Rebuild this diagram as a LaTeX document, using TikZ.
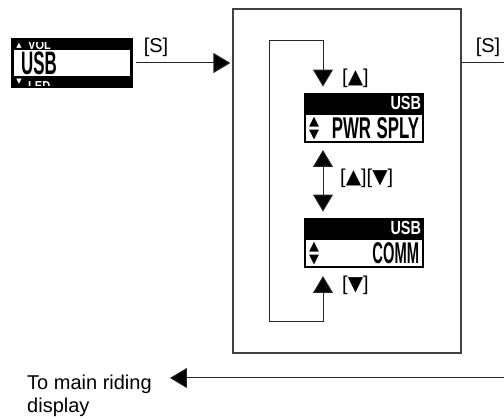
\documentclass[tikz,border=0pt]{standalone}
\usepackage{fontspec}
\setmainfont{Liberation Sans}
\newfontfamily\symf{DejaVu Sans}
\usepackage{graphicx}
\usetikzlibrary{arrows.meta,positioning}

\newcommand\narrow[2]{\scalebox{#1}[1]{#2}}
\newcommand\keyup{{\symf ▲}}
\newcommand\keydn{{\symf ▼}}
\newcommand\updn{\smash{\fontsize{13}{11}\symf\shortstack{▲\\▼}}}

\begin{document}
\begin{tikzpicture}[x=1pt,y=-1pt,
  txt/.style={inner sep=0pt,font=\fontsize{20}{23}\selectfont},
  wire/.style={draw=black!85,line width=1pt},
  tip/.style={wire,-{Triangle[length=17pt,width=20pt,fill=black]}},
  body/.style={draw,line width=2pt,fill=white,minimum width=118pt,minimum height=28pt,
    text width=110pt,inner xsep=4pt,inner ysep=0pt,align=right,font=\fontsize{30}{30}\bfseries},
  bar/.style={fill=black,text=white,minimum width=120pt,minimum height=20pt,
    text width=114pt,inner xsep=3pt,inner ysep=0pt,align=right,font=\fontsize{19}{19}\bfseries},
  small/.style={inner sep=0pt,text=white,font=\fontsize{13}{13}\bfseries}]
\useasboundingbox (0,0) rectangle (504,419);

\node[fill=black,minimum width=122pt,minimum height=50pt,inner sep=0pt] (lcd) at (72,63) {};
\node[fill=white,minimum width=116pt,minimum height=26pt,inner sep=0pt,anchor=north] (lcdbody) at (72,50) {};
\node[anchor=west,inner sep=0pt,font=\fontsize{26}{26}\bfseries] (usb) at (21,63.5) {\scalebox{0.65}[1.25]{USB}};
\begin{scope}
  \clip (13,43) rectangle (131,50);
  \node[small,anchor=base west] (vol) at (28,49.5) {\narrow{0.85}{VOL}};
  \node[small,font=\fontsize{7}{7}\symf] (volup) at (19,46) {▲};
\end{scope}
\begin{scope}
  \clip (13,76) rectangle (131,86);
  \node[small,anchor=north west] (led) at (28,81) {\narrow{0.85}{LED}};
  \node[small,font=\fontsize{7}{7}\symf] (leddn) at (19,82) {▼};
\end{scope}

\node[draw=black!75,line width=1.2pt,minimum width=228pt,minimum height=344pt] (menu) at (347,181) {};

\node[body] (pwr) at (364,128) {\updn\hfill\narrow{0.56}{PWR SPLY}};
\node[bar,anchor=south] (pwrbar) at (pwr.north) {\narrow{0.76}{USB}};

\node[body] (comm) at (364,253) {\updn\hfill\narrow{0.49}{COMM}};
\node[bar,anchor=south] (commbar) at (comm.north) {\narrow{0.76}{USB}};

\coordinate (v) at (323,0);
\coordinate (dn) at (323,78);
\coordinate (mid) at (323,178);
\coordinate (up) at (323,285);
\coordinate (out) at (504,63);
\coordinate (back) at (504,378);

\draw[tip,shorten <=3pt,shorten >=2pt] (lcd.east) -- (lcd.east -| menu.west);
\node[txt] (sin) at (156,47) {[S]};
\draw[wire] (out -| menu.east) -- (out);
\node[txt] (sout) at (488,47) {[S]};

\draw[wire,{Triangle[length=17pt,width=20pt,fill=black]}-{Triangle[length=17pt,width=20pt,fill=black]},
  shorten <=8pt,shorten >=6pt] (v |- comm.south) -- (323,322) -- (269,322) -- (269,41) -- (323,41) -- (v |- pwrbar.north);
\draw[wire,{Triangle[length=17pt,width=20pt,fill=black]}-{Triangle[length=17pt,width=20pt,fill=black]},
  shorten <=7pt,shorten >=6pt] (v |- pwr.south) -- (v |- commbar.north);
\node[txt,right=19pt of dn] (keya) {[\keyup]};
\node[txt,right=17pt of mid] (keyb) {[\keyup][\keydn]};
\node[txt,right=19pt of up] (keyc) {[\keydn]};

\node[txt,anchor=north west,align=left] (main) at (27,375) {To main riding\\display};
\draw[tip] (back) -- ([xshift=18pt]back -| main.east);
\end{tikzpicture}
\end{document}
